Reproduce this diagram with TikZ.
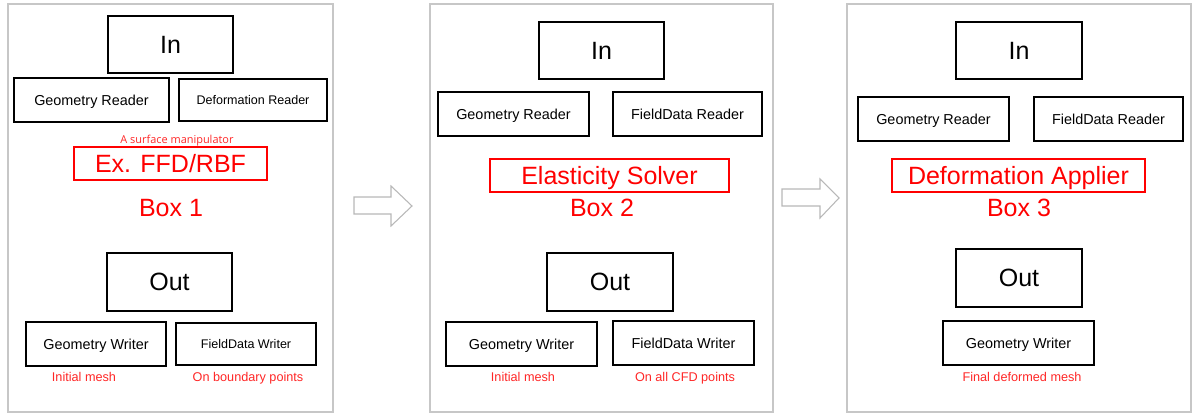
\documentclass[tikz,border=0pt]{standalone}
\usepackage{fontspec}
\setmainfont{Liberation Sans}
\newfontfamily\notefont{Open Sans}
\tikzset{
  panel/.style={draw=black!22, line width=1.1pt},
  bigarrow/.style={draw=black!28, line width=0.8pt, fill=white},
  boxsize/.style 2 args={minimum width=#1*0.75pt, minimum height=#2*0.75pt},
  fsize/.style={font=\fontsize{#1}{#1}\selectfont, text height=#1*0.716pt, text depth=0pt},
  blk/.style={draw, line width=0.9pt, inner sep=0pt},
  ioblk/.style={blk, fsize=18.75},
  rwblk/.style={blk, fsize=10.8},
  rwsmall/.style={blk, fsize=9.4},
  method/.style={draw=red, line width=0.8pt, inner sep=0pt, text=red, fsize=18.75},
  boxlabel/.style={text=red, fsize=18.75},
  note/.style={text=red!85, fsize=9.5}
}
\begin{document}
\begin{tikzpicture}[x=0.75pt, y=-0.75pt]
  \useasboundingbox (0,0) rectangle (1194,414);

  % panels
  \draw[panel] (8,4) rectangle (333,412);
  \draw[panel] (430,4) rectangle (773,412);
  \draw[panel] (847,4) rectangle (1191,412);

  % arrows between the panels
  \draw[bigarrow] (354,197) -- (391,197) -- (391,186) -- (412,206) -- (391,226) -- (391,214) -- (354,214) -- cycle;
  \draw[bigarrow] (782,189) -- (820,189) -- (820,179) -- (839,198) -- (820,218) -- (820,206) -- (782,206) -- cycle;

  % Box 1
  \node[ioblk, boxsize={125}{57}] (in1) at (170.5,44.5) {In};
  \node[rwblk, boxsize={155}{44}] (georead1) at (91.5,100) {Geometry Reader};
  \node[rwsmall, boxsize={148}{42}] (defread1) at (253,100) {Deformation Reader};
  \node[text=red!85, fsize=8.2, font=\notefont\fontsize{8.2}{9}\selectfont] (surfnote1) at (177,140) {A surface manipulator};
  \node[method, boxsize={193}{33}] (method1) at (170.5,163.5) {Ex. FFD/RBF};
  \node[boxlabel] (boxlab1) at (171,208) {Box 1};
  \node[ioblk, boxsize={125}{58}] (out1) at (169.5,282) {Out};
  \node[rwblk, boxsize={140}{44}] (geowrite1) at (96,344) {Geometry Writer};
  \node[rwsmall, boxsize={140}{42}] (fdwrite1) at (246,344) {FieldData Writer};
  \node[note] (mesh1) at (84,377) {Initial mesh};
  \node[note] (bnd1) at (248,377) {On boundary points};

  % Box 2
  \node[ioblk, boxsize={125}{57}] (in2) at (601.5,50.5) {In};
  \node[rwblk, boxsize={151}{44}] (georead2) at (513.5,114) {Geometry Reader};
  \node[rwblk, boxsize={149}{44}] (fdread2) at (687.5,114) {FieldData Reader};
  \node[method, boxsize={239}{33}] (method2) at (609.5,175.5) {Elasticity Solver};
  \node[boxlabel] (boxlab2) at (602,208) {Box 2};
  \node[ioblk, boxsize={126}{58}] (out2) at (610,282) {Out};
  \node[rwblk, boxsize={151}{44}] (geowrite2) at (521.5,344) {Geometry Writer};
  \node[rwblk, boxsize={141}{44}] (fdwrite2) at (683.5,343) {FieldData Writer};
  \node[note] (mesh2) at (523,377) {Initial mesh};
  \node[note] (cfd2) at (685,377) {On all CFD points};

  % Box 3
  \node[ioblk, boxsize={126}{57}] (in3) at (1019,50.5) {In};
  \node[rwblk, boxsize={151}{44}] (georead3) at (933.5,119) {Geometry Reader};
  \node[rwblk, boxsize={149}{44}] (fdread3) at (1108.5,119) {FieldData Reader};
  \node[method, boxsize={253}{33}] (method3) at (1018.5,175.5) {Deformation Applier};
  \node[boxlabel] (boxlab3) at (1019,208) {Box 3};
  \node[ioblk, boxsize={126}{58}] (out3) at (1019,278) {Out};
  \node[rwblk, boxsize={151}{44}] (geowrite3) at (1018.5,343) {Geometry Writer};
  \node[note] (final3) at (1022,377) {Final deformed mesh};
\end{tikzpicture}
\end{document}
